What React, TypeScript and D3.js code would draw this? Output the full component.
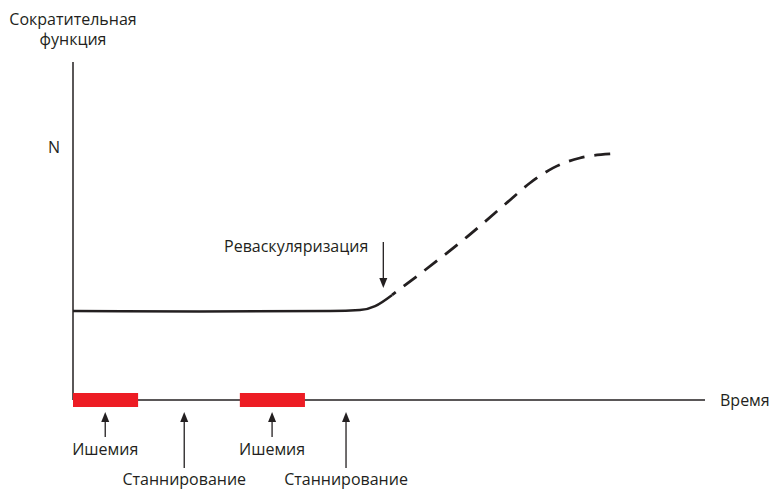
import * as d3 from "d3";
import { useEffect, useRef } from "react";

// time axis 0..100, function axis 0..100 (0 = time axis)
const solidCurve: [number, number][] = [
  [0, 26.3], [20, 26.2], [40.7, 26.3], [45.4, 26.6], [47.8, 27.8], [50.5, 31.1],
];
const dashedCurve: [number, number][] = [
  [50.5, 31.1], [54.9, 37.3], [62.3, 48.2], [68.8, 58.6], [72.3, 64.2],
  [75.9, 68.6], [80.2, 71.6], [85.0, 72.8],
];
const ischemiaSpans: [number, number][] = [[0, 10.3], [26.4, 36.7]];
const ischemiaMarks = [5.1, 31.5];
const stunningMarks = [17.6, 43.2];
const revascMark = 49.1;
const nLevel = 75;

const yLabel = ["Сократительная", "функция"];
const xLabel = "Время";
const ischemiaLabel = "Ишемия";
const stunningLabel = "Станнирование";
const revascLabel = "Реваскуляризация";

const W = 775;
const H = 489;
const ink = "#231f20";
const font = "'Open Sans', sans-serif";
const DASH = 16;
const GAP = 10;

export default function App() {
  const dashRef = useRef<SVGPathElement>(null);
  const x = d3.scaleLinear().domain([0, 100]).range([73, 705]);
  const y = d3.scaleLinear().domain([0, 100]).range([400, 62]);
  const line = d3.line<[number, number]>()
    .x(d => x(d[0]))
    .y(d => y(d[1]))
    .curve(d3.curveMonotoneX);

  // make the dashed curve end on a full dash
  useEffect(() => {
    const p = dashRef.current;
    if (!p) return;
    const len = p.getTotalLength();
    const period = DASH + GAP;
    const rest = len % period;
    const off = rest >= DASH ? 0 : (DASH - rest);
    d3.select(p).attr("stroke-dashoffset", off - period);
  }, []);

  const y0 = y(0);
  const upArrow = (cx: number, tip: number, tail: number, key: string) => (
    <g key={key}>
      <line x1={cx} x2={cx} y1={tip + 8} y2={tail} stroke={ink} strokeWidth={1.3} />
      <path d={`M${cx},${tip} L${cx - 4},${tip + 10} L${cx + 4},${tip + 10} Z`} fill={ink} />
    </g>
  );

  const rx = x(revascMark);
  return (
    <svg width={W} height={H} style={{ position: "absolute", left: 0, top: 0 }}
      fontFamily={font} fontSize={16} fill="#231f20">
      <rect width={W} height={H} fill="#fff" />
      {/* axes */}
      <line x1={x(0)} x2={x(0)} y1={y(100)} y2={y0} stroke={ink} strokeWidth={1.5} />
      <line x1={x(0)} x2={x(100)} y1={y0} y2={y0} stroke={ink} strokeWidth={1.3} />
      {yLabel.map((t, i) => (
        <text key={t} x={x(0)} y={25 + i * 20} textAnchor="middle">{t}</text>
      ))}
      <text x={x(0) - 13} y={y(nLevel) + 6} textAnchor="end">N</text>
      <text x={x(100) + 15} y={y0 + 6}>{xLabel}</text>

      {/* ischemia periods */}
      {ischemiaSpans.map(([a, b], i) => (
        <rect key={i} x={x(a)} width={x(b) - x(a)} y={y0 - 7} height={14} fill="#ed1c24" />
      ))}
      {ischemiaMarks.map((m, i) => (
        <g key={"i" + i}>
          {upArrow(x(m), y0 + 12, y0 + 37, "ia" + i)}
          <text x={x(m)} y={y0 + 55} textAnchor="middle">{ischemiaLabel}</text>
        </g>
      ))}
      {stunningMarks.map((m, i) => (
        <g key={"s" + i}>
          {upArrow(x(m), y0 + 12, y0 + 68, "sa" + i)}
          <text x={x(m)} y={y0 + 85} textAnchor="middle">{stunningLabel}</text>
        </g>
      ))}

      {/* contractile function */}
      <path d={line(solidCurve) ?? ""} fill="none" stroke={ink} strokeWidth={2.5} />
      <path ref={dashRef} d={line(dashedCurve) ?? ""} fill="none" stroke={ink} strokeWidth={2.8}
        strokeDasharray={`${DASH} ${GAP}`} />

      {/* revascularization */}
      <line x1={rx} x2={rx} y1={242} y2={279} stroke={ink} strokeWidth={1.3} />
      <path d={`M${rx},288 L${rx - 4},278 L${rx + 4},278 Z`} fill={ink} />
      <text x={rx - 15} y={252} textAnchor="end">{revascLabel}</text>
    </svg>
  );
}
